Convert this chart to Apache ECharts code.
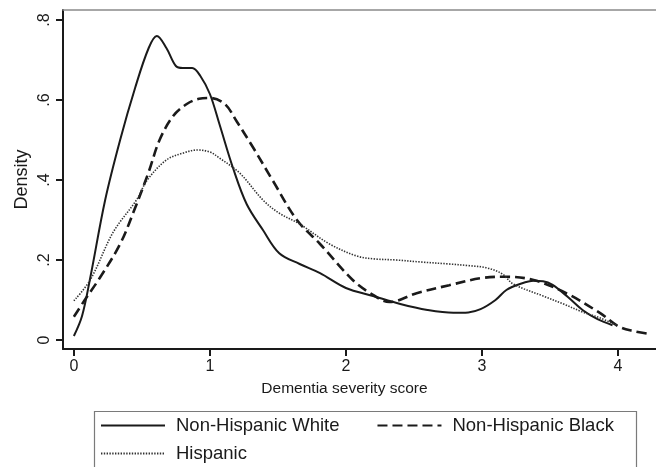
<!DOCTYPE html>
<html>
<head>
<meta charset="utf-8">
<script src="https://cdn.jsdelivr.net/npm/echarts@6/dist/echarts.min.js"></script>
<style>
  html, body { margin: 0; padding: 0; background: #fff; }
  #chart { width: 656px; height: 467px; }
</style>
</head>
<body>
<div id="chart"></div>
<script>
// Kernel density estimates of dementia severity score by race/ethnicity
const seriesNames = ['Non-Hispanic White', 'Non-Hispanic Black', 'Hispanic'];

const whiteX = [0, 0.06, 0.12, 0.23, 0.34, 0.45, 0.55, 0.61, 0.68, 0.75, 0.8, 0.87, 0.93, 1.0, 1.07, 1.17, 1.27, 1.39, 1.51, 1.66, 1.81, 2.0, 2.2, 2.4, 2.6, 2.79, 2.9, 2.99, 3.1, 3.18, 3.28, 3.38, 3.45, 3.52, 3.63, 3.74, 3.85, 3.96];
const whiteY = [0.01, 0.06, 0.155, 0.35, 0.5, 0.63, 0.73, 0.76, 0.73, 0.685, 0.68, 0.68, 0.66, 0.615, 0.54, 0.43, 0.34, 0.275, 0.217, 0.19, 0.167, 0.13, 0.11, 0.09, 0.075, 0.068, 0.069, 0.077, 0.1, 0.125, 0.14, 0.148, 0.147, 0.138, 0.108, 0.075, 0.052, 0.037];

const blackX = [0, 0.08, 0.19, 0.34, 0.45, 0.55, 0.63, 0.73, 0.83, 0.92, 1.0, 1.11, 1.2, 1.32, 1.46, 1.64, 1.81, 2.05, 2.18, 2.32, 2.52, 2.76, 3.0, 3.18, 3.38, 3.62, 3.87, 4.01, 4.12, 4.24];
const blackY = [0.058, 0.1, 0.155, 0.24, 0.33, 0.42, 0.5, 0.56, 0.59, 0.603, 0.605, 0.59, 0.545, 0.48, 0.4, 0.3, 0.24, 0.15, 0.117, 0.095, 0.117, 0.137, 0.155, 0.158, 0.15, 0.117, 0.067, 0.033, 0.022, 0.015];

const hispX = [0, 0.12, 0.29, 0.46, 0.54, 0.68, 0.8, 0.91, 1.0, 1.07, 1.22, 1.39, 1.51, 1.66, 1.88, 2.08, 2.2, 2.37, 2.55, 2.76, 2.9, 3.04, 3.15, 3.23, 3.45, 3.6, 3.74, 3.87, 3.99];
const hispY = [0.098, 0.15, 0.27, 0.35, 0.4, 0.45, 0.467, 0.475, 0.47, 0.455, 0.417, 0.35, 0.317, 0.29, 0.24, 0.21, 0.203, 0.2, 0.195, 0.19, 0.186, 0.18, 0.165, 0.14, 0.11, 0.09, 0.07, 0.055, 0.037];

const xTicks = [0, 1, 2, 3, 4];
const yTicks = [0, 0.2, 0.4, 0.6, 0.8];
const yTickLabels = ['0', '.2', '.4', '.6', '.8'];

const pairs = (xs, ys) => xs.map((x, i) => [x, ys[i]]);

const FONT = '"Liberation Sans", Arial, Helvetica, sans-serif';
const INK = '#1a1a1a';
const X_MIN = -0.08, X_MAX = 4.28;

const lineStyles = [
  { color: INK, width: 2, type: 'solid' },
  { color: INK, width: 2.6, type: [10, 5] },
  { color: '#333', width: 1.6, type: [1.4, 1.4] }
];

// Legend entries show only the line sample (the symbol marker is hidden)
const legendCommon = {
  orient: 'horizontal',
  left: 95,
  itemWidth: 64,
  itemHeight: 16,
  itemGap: 37,
  itemStyle: { opacity: 0 },
  textStyle: { fontSize: 18.5, color: INK, fontFamily: FONT, padding: [0, 0, 0, 6] }
};

const chart = echarts.init(document.getElementById('chart'), null, { renderer: 'canvas' });

chart.setOption({
  animation: false,
  backgroundColor: '#fff',
  textStyle: { fontFamily: FONT },
  grid: { left: 63, right: 0, top: 10, bottom: 118 },
  xAxis: [
    {
      type: 'value',
      min: X_MIN, max: X_MAX,
      name: 'Dementia severity score',
      nameLocation: 'middle',
      nameGap: 32,
      nameTextStyle: { fontSize: 15.5, color: INK, fontFamily: FONT, padding: [0, 30, 0, 0] },
      axisLine: { show: true, onZero: false, lineStyle: { color: INK, width: 2 } },
      axisTick: { show: true, length: 7, customValues: xTicks, lineStyle: { color: INK, width: 2 } },
      axisLabel: {
        customValues: xTicks, fontSize: 16, color: INK, margin: 10, fontFamily: FONT,
        formatter: v => String(v)
      },
      splitLine: { show: false }
    },
    {
      // plain frame line along the top of the plot region
      type: 'value',
      position: 'top',
      min: X_MIN, max: X_MAX,
      axisLine: { show: true, onZero: false, lineStyle: { color: '#8a8a8a', width: 1.5 } },
      axisTick: { show: false },
      axisLabel: { show: false },
      splitLine: { show: false }
    }
  ],
  yAxis: {
    type: 'value',
    min: -0.0225, max: 0.825,
    name: 'Density',
    nameLocation: 'middle',
    nameGap: 32,
    nameMoveOverlap: false,
    nameRotate: 90,
    nameTextStyle: { fontSize: 18, color: INK, fontFamily: FONT },
    axisLine: { show: true, onZero: false, lineStyle: { color: INK, width: 2 } },
    axisTick: { show: true, length: 7, customValues: yTicks, lineStyle: { color: INK, width: 2 } },
    axisLabel: {
      customValues: yTicks, fontSize: 16, color: INK, rotate: 90, margin: 10, fontFamily: FONT,
      formatter: v => yTickLabels[yTicks.findIndex(t => Math.abs(t - v) < 1e-9)]
    },
    splitLine: { show: false }
  },
  legend: [
    Object.assign({ data: [seriesNames[0], seriesNames[1]], top: 411 }, legendCommon),
    Object.assign({ data: [seriesNames[2]], top: 439 }, legendCommon)
  ],
  graphic: [
    {
      // legend frame
      type: 'rect',
      left: 92, top: 409,
      shape: { width: 542, height: 80 },
      style: { fill: 'none', stroke: '#7a7a7a', lineWidth: 1.2 },
      z: -1
    }
  ],
  series: [
    { name: seriesNames[0], data: pairs(whiteX, whiteY), lineStyle: lineStyles[0] },
    { name: seriesNames[1], data: pairs(blackX, blackY), lineStyle: lineStyles[1] },
    { name: seriesNames[2], data: pairs(hispX, hispY), lineStyle: lineStyles[2] }
  ].map(s => Object.assign({
    type: 'line',
    xAxisIndex: 0,
    smooth: 0.35,
    showSymbol: false,
    symbol: 'none',
    itemStyle: { color: s.lineStyle.color },
    emphasis: { disabled: true }
  }, s))
});
</script>
</body>
</html>
